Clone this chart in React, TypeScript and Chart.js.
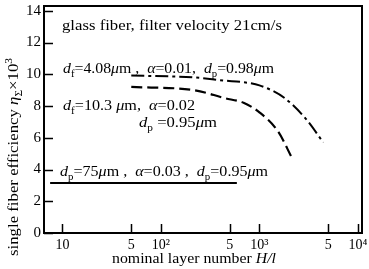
import React, { useEffect, useRef } from 'react';
import { Chart, registerables } from 'chart.js';

Chart.register(...registerables);

// ---- data ----
const xTickValues = [10, 50, 100, 500, 1000, 5000, 10000];
const xTickLabels = ['10', '5', '10²', '5', '10³', '5', '10⁴'];
const yTickValues = [0, 2, 4, 6, 8, 10, 12, 14];

// d_p = 75 µm, α = 0.03 (solid)
const layersA = [7.5, 590];
const effA = [3.15, 3.15];
// d_f = 4.08 µm, α = 0.01, d_p = 0.98 µm (dash-dot)
const layersB = [50, 217, 442, 690, 1000, 1800, 2960, 4450];
const effB = [9.92, 9.8, 9.6, 9.5, 9.3, 8.5, 7.19, 5.7];
// d_f = 10.3 µm, α = 0.02, d_p = 0.95 µm (dashed)
const layersC = [50, 217, 442, 690, 1000, 1545, 2140];
const effC = [9.2, 9.0, 8.5, 8.2, 7.6, 6.4, 4.73];

const FONT = '"Liberation Serif", "Times New Roman", serif';

type Run = { t: string; i?: boolean; sub?: boolean; sup?: boolean };

function runFont(r: Run, size: number) {
  const s = r.sub || r.sup ? size * 0.68 : size;
  return `${r.i ? 'italic ' : ''}${s}px ${FONT}`;
}
function richWidth(ctx: CanvasRenderingContext2D, runs: Run[], size: number) {
  let w = 0;
  for (const r of runs) {
    ctx.font = runFont(r, size);
    w += ctx.measureText(r.t).width;
  }
  return w;
}
// draws rich text starting at (x, y); if width given, stretches horizontally to fit it
function drawRich(
  ctx: CanvasRenderingContext2D,
  x: number,
  y: number,
  runs: Run[],
  size: number,
  width?: number,
) {
  const natural = richWidth(ctx, runs, size);
  const sx = width ? width / natural : 1;
  ctx.save();
  ctx.translate(x, y);
  ctx.scale(sx, 1);
  let cx = 0;
  for (const r of runs) {
    ctx.font = runFont(r, size);
    const dy = r.sub ? size * 0.28 : r.sup ? -size * 0.38 : 0;
    ctx.fillText(r.t, cx, dy);
    cx += ctx.measureText(r.t).width;
  }
  ctx.restore();
}

const labelTitle: Run[] = [{ t: 'glass fiber, filter velocity 21cm/s' }];
const labelB: Run[] = [
  { t: 'd', i: true }, { t: 'f', sub: true }, { t: '=4.08' }, { t: 'μ', i: true }, { t: 'm ,  ' },
  { t: 'α', i: true }, { t: '=0.01,  ' }, { t: 'd', i: true }, { t: 'p', sub: true }, { t: '=0.98' },
  { t: 'μ', i: true }, { t: 'm' },
];
const labelC1: Run[] = [
  { t: 'd', i: true }, { t: 'f', sub: true }, { t: '=10.3 ' }, { t: 'μ', i: true }, { t: 'm,  ' },
  { t: 'α', i: true }, { t: '=0.02' },
];
const labelC2: Run[] = [{ t: 'd', i: true }, { t: 'p', sub: true }, { t: ' =0.95' }, { t: 'μ', i: true }, { t: 'm' }];
const labelA: Run[] = [
  { t: 'd', i: true }, { t: 'p', sub: true }, { t: '=75' }, { t: 'μ', i: true }, { t: 'm ,  ' },
  { t: 'α', i: true }, { t: '=0.03 ,  ' }, { t: 'd', i: true }, { t: 'p', sub: true }, { t: '=0.95' },
  { t: 'μ', i: true }, { t: 'm' },
];
const xTitle: Run[] = [{ t: 'nominal layer number ' }, { t: 'H/l', i: true }];
const yTitle: Run[] = [
  { t: 'single fiber efficiency ' }, { t: 'η', i: true }, { t: 'Σ', sub: true }, { t: '×10' }, { t: '3', sup: true },
];

const overlay = {
  id: 'overlay',
  afterDraw(chart: any) {
    const ctx: CanvasRenderingContext2D = chart.ctx;
    const { left, right, top, bottom } = chart.chartArea;
    const xs = chart.scales.x;
    const ys = chart.scales.y;
    ctx.save();
    ctx.strokeStyle = '#000';
    ctx.fillStyle = '#000';
    // frame
    ctx.lineWidth = 2;
    ctx.strokeRect(left, top, right - left, bottom - top);
    // inward ticks
    ctx.lineWidth = 1.5;
    ctx.beginPath();
    for (const v of yTickValues) {
      const py = Math.round(ys.getPixelForValue(v)) + 0.5;
      ctx.moveTo(left, py);
      ctx.lineTo(left + 9, py);
    }
    for (const v of xTickValues) {
      const px = Math.round(xs.getPixelForValue(v)) + 0.5;
      ctx.moveTo(px, bottom);
      ctx.lineTo(px, bottom - 9);
    }
    ctx.stroke();
    // annotations
    ctx.textAlign = 'left';
    ctx.textBaseline = 'alphabetic';
    drawRich(ctx, 62, 30, labelTitle, 15.5, 220);
    drawRich(ctx, 63, 73, labelB, 14, 211);
    drawRich(ctx, 63, 110, labelC1, 14, 132);
    drawRich(ctx, 139, 127, labelC2, 14, 78);
    drawRich(ctx, 60, 176, labelA, 14, 208);
    // x title
    drawRich(ctx, 112, 263, xTitle, 15.5, 164);
    // y title
    ctx.translate(18, 157);
    ctx.rotate(-Math.PI / 2);
    drawRich(ctx, -99, 0, yTitle, 15.5, 198);
    ctx.restore();
  },
};

export default function App() {
  const ref = useRef<HTMLCanvasElement>(null);
  useEffect(() => {
    document.body.style.margin = '0';
    const ctx = ref.current!.getContext('2d')!;
    const toPts = (xsArr: number[], ysArr: number[]) => xsArr.map((x, i) => ({ x, y: ysArr[i] }));
    const chart = new Chart(ctx, {
      type: 'line',
      data: {
        datasets: [
          {
            data: toPts(layersA, effA),
            borderColor: '#000',
            borderWidth: 2,
            pointRadius: 0,
          },
          {
            data: toPts(layersB, effB),
            borderColor: '#000',
            borderWidth: 2,
            borderDash: [13, 4, 3, 4],
            pointRadius: 0,
            tension: 0.4,
            cubicInterpolationMode: 'monotone',
          },
          {
            data: toPts(layersC, effC),
            borderColor: '#000',
            borderWidth: 2.2,
            borderDash: [11, 5],
            pointRadius: 0,
            tension: 0.4,
            cubicInterpolationMode: 'monotone',
          },
        ],
      },
      options: {
        responsive: false,
        animation: false,
        layout: { padding: { left: 0, right: 7, top: 6, bottom: 0 } },
        plugins: { legend: { display: false }, tooltip: { enabled: false } },
        scales: {
          x: {
            type: 'logarithmic',
            min: 6.5,
            max: 11000,
            grid: { display: false, drawTicks: false },
            border: { display: false },
            afterBuildTicks: (scale: any) => {
              scale.ticks = xTickValues.map((v) => ({ value: v }));
            },
            afterFit: (scale: any) => {
              scale.height = 36;
              scale.paddingLeft = 0;
              scale.paddingRight = 0;
            },
            ticks: {
              autoSkip: false,
              maxRotation: 0,
              padding: 4,
              color: '#000',
              font: { family: FONT, size: 14 },
              callback: (value: any) => {
                const idx = xTickValues.indexOf(Number(value));
                return idx >= 0 ? xTickLabels[idx] : '';
              },
            },
          },
          y: {
            type: 'linear',
            min: 0,
            max: 14.3,
            grid: { display: false, drawTicks: false },
            border: { display: false },
            afterBuildTicks: (scale: any) => {
              scale.ticks = yTickValues.map((v) => ({ value: v }));
            },
            afterFit: (scale: any) => {
              scale.width = 44;
              scale.paddingTop = 0;
              scale.paddingBottom = 0;
            },
            ticks: {
              padding: 3,
              color: '#000',
              font: { family: FONT, size: 15 },
            },
          },
        },
      },
      plugins: [overlay],
    } as any);
    return () => chart.destroy();
  }, []);
  return (
    <div style={{ position: 'absolute', left: 0, top: 0, width: 369, height: 269, background: '#fff' }}>
      <canvas ref={ref} width={369} height={269} style={{ display: 'block' }} />
    </div>
  );
}
